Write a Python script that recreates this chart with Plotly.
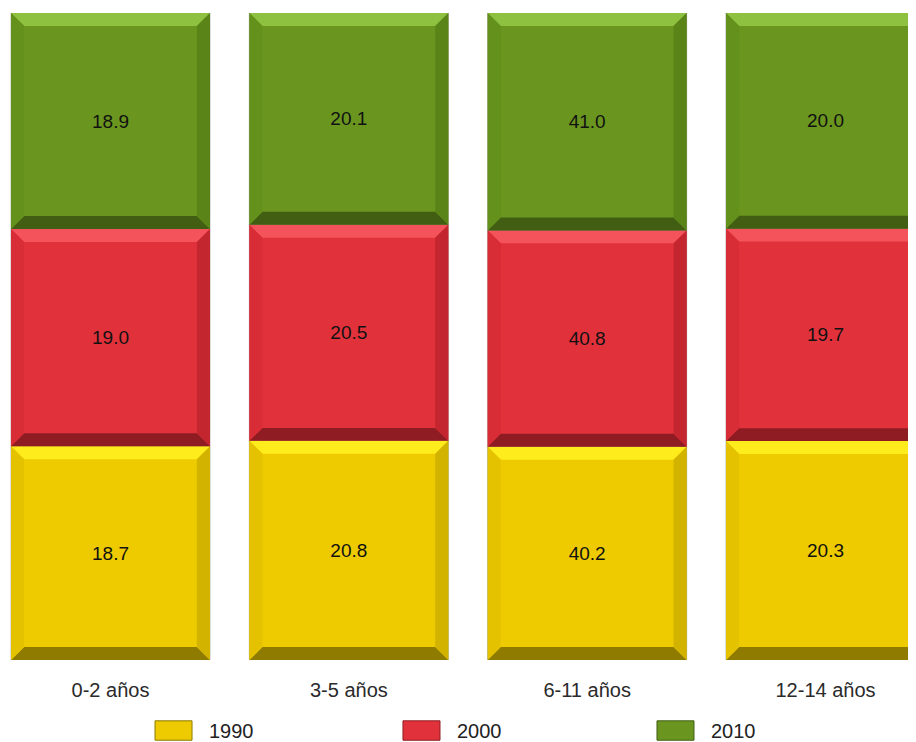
import numpy as np
import plotly.graph_objects as go

# data
categories = ['0-2 años', '3-5 años', '6-11 años', '12-14 años']
years = ['1990', '2000', '2010']
v1990 = [18.7, 20.8, 40.2, 20.3]
v2000 = [19.0, 20.5, 40.8, 19.7]
v2010 = [18.9, 20.1, 41.0, 20.0]

# face, top, left, right, bottom
colors = {
    '1990': ['#EDCB00', '#FFEC1C', '#E4C200', '#D2B300', '#8E7B00'],
    '2000': ['#E1323C', '#F4535B', '#D82C36', '#C4262F', '#8E1C22'],
    '2010': ['#6A961F', '#8DC13F', '#64901C', '#5A8418', '#415E12'],
}

vals = np.array([v1990, v2000, v2010])
pct = vals / vals.sum(axis=0) * 100  # 100% stacked
base = np.vstack([np.zeros(len(categories)), np.cumsum(pct, axis=0)[:-1]])
xpos = np.arange(len(categories))

BW = 0.835      # bar width (category units)
BX = 0.055      # bevel size x
BY = 2.0        # bevel size y (%)

fig = go.Figure()
for i, yr in enumerate(years):
    fig.add_trace(go.Bar(
        x=xpos, y=pct[i], base=base[i], width=BW, name=yr,
        marker=dict(color=colors[yr][0], line=dict(color='rgba(110,110,110,0.45)', width=1)),
        text=[f'{v:.1f}' for v in vals[i]], textposition='inside',
        insidetextanchor='middle', textangle=0,
        textfont=dict(family='Liberation Sans, Arial', size=19, color='#111111'),
        hoverinfo='skip', showlegend=False, cliponaxis=True,
    ))

# bevel shapes on each block
shapes = []
for i, yr in enumerate(years):
    c = colors[yr]
    for j in range(len(categories)):
        x0, x1 = xpos[j] - BW / 2, xpos[j] + BW / 2
        y0, y1 = base[i][j], base[i][j] + pct[i][j]
        polys = [
            (c[1], [(x0, y1), (x1, y1), (x1 - BX, y1 - BY), (x0 + BX, y1 - BY)]),
            (c[4], [(x0, y0), (x1, y0), (x1 - BX, y0 + BY), (x0 + BX, y0 + BY)]),
            (c[2], [(x0, y0), (x0 + BX, y0 + BY), (x0 + BX, y1 - BY), (x0, y1)]),
            (c[3], [(x1, y0), (x1 - BX, y0 + BY), (x1 - BX, y1 - BY), (x1, y1)]),
        ]
        for col, pts in polys:
            path = 'M' + ' L'.join(f'{px:.4f},{py:.4f}' for px, py in pts) + ' Z'
            shapes.append(dict(type='path', path=path, xref='x', yref='y',
                               fillcolor=col, line=dict(width=0), layer='above'))

# hand made legend under the axis labels (paper units for a 916 px wide plot)
leg_x = [0.1605, 0.4312, 0.7085]
for k, yr in enumerate(years):
    shapes.append(dict(type='rect', xref='paper', yref='paper',
                       x0=leg_x[k], x1=leg_x[k] + 0.0404, y0=-0.124, y1=-0.094,
                       fillcolor=colors[yr][0], line=dict(color=colors[yr][4], width=1)))
annotations = [dict(text=yr, xref='paper', yref='paper', x=leg_x[k] + 0.0565, y=-0.110,
                    xanchor='left', yanchor='middle', showarrow=False,
                    font=dict(family='Liberation Sans, Arial', size=20, color='#222222'))
               for k, yr in enumerate(years)]

fig.update_layout(
    width=916, height=734,
    margin=dict(l=0, r=0, t=5, b=82),
    plot_bgcolor='white', paper_bgcolor='white',
    barmode='overlay',
    shapes=shapes, annotations=annotations,
    xaxis=dict(range=[-0.4301, 3.4133], tickvals=list(xpos), ticktext=categories,
               showgrid=False, zeroline=False, showline=False, ticks='',
               ticklabelstandoff=16,
               tickfont=dict(family='Liberation Sans, Arial', size=20, color='#2a2a2a')),
    yaxis=dict(range=[0, 100], visible=False),
    uniformtext=dict(minsize=10, mode='show'),
)

fig.write_html('out.html')
